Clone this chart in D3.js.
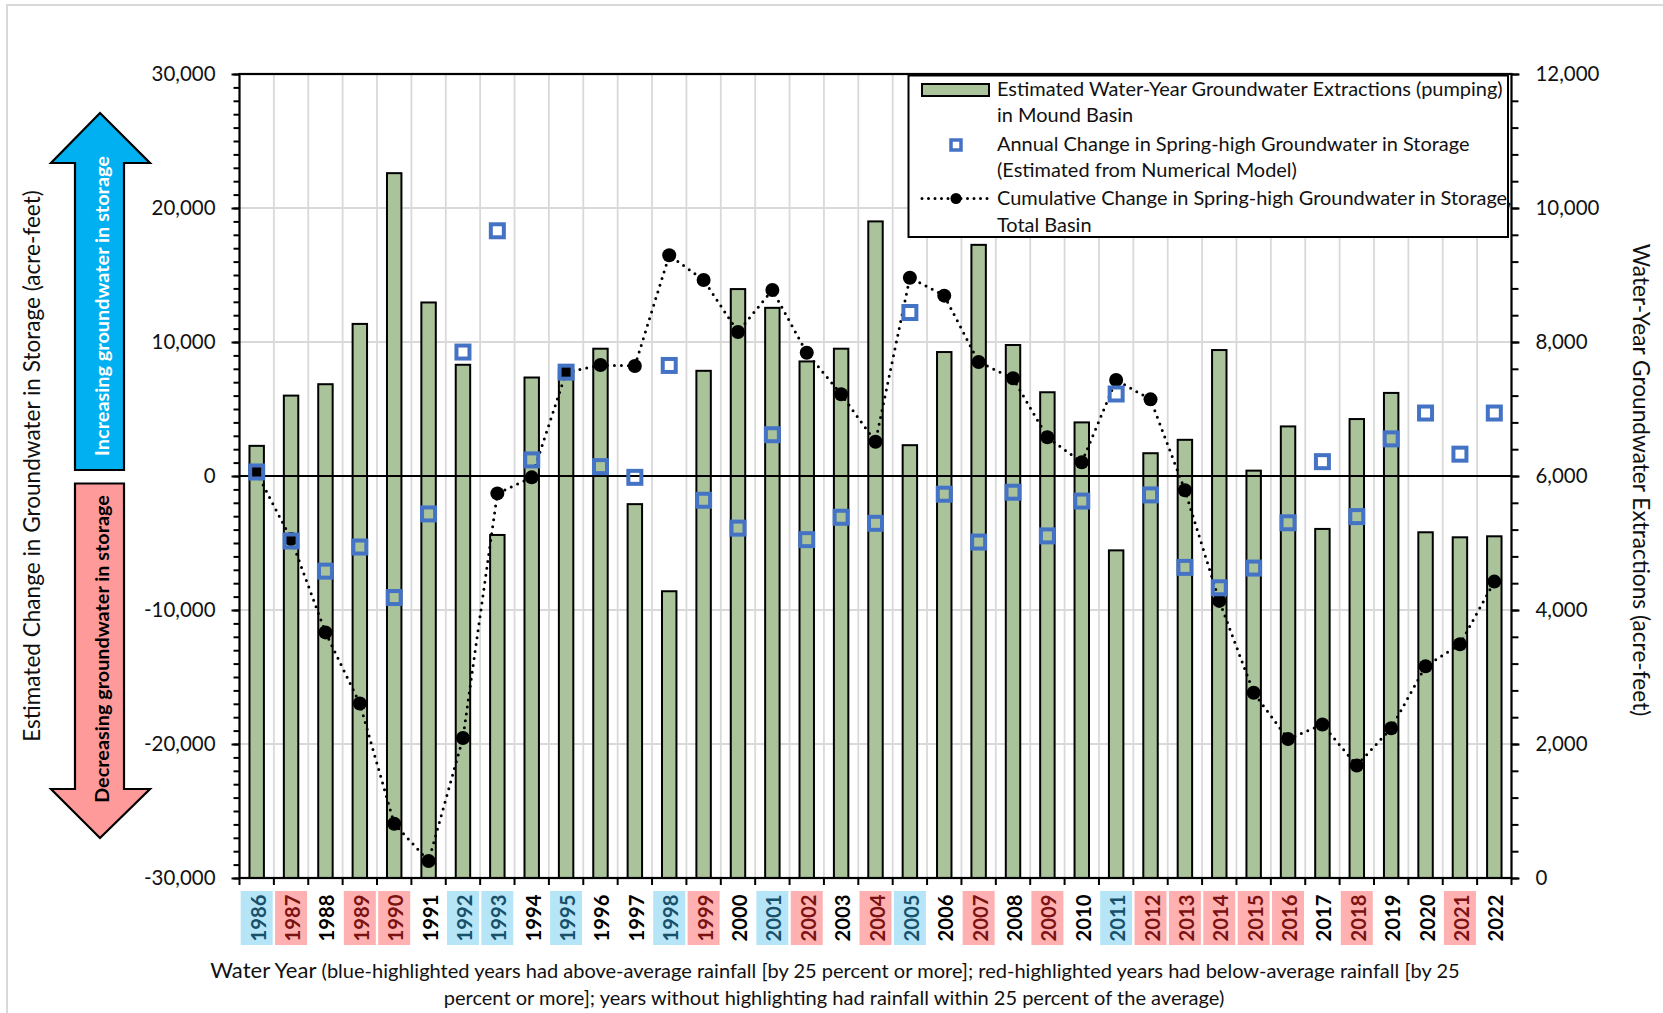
<!DOCTYPE html>
<html>
<head>
<meta charset="utf-8">
<script src="https://cdn.jsdelivr.net/npm/d3@7"></script>
<style>
  html, body { margin: 0; padding: 0; background: #fff; }
  svg { display: block; font-family: Lato, "Open Sans", sans-serif; }
</style>
</head>
<body>
<svg id="chart" width="1663" height="1013"></svg>
<script>
// Water years on the category axis
const years = [1986, 1987, 1988, 1989, 1990, 1991, 1992, 1993, 1994, 1995,
               1996, 1997, 1998, 1999, 2000, 2001, 2002, 2003, 2004, 2005,
               2006, 2007, 2008, 2009, 2010, 2011, 2012, 2013, 2014, 2015,
               2016, 2017, 2018, 2019, 2020, 2021, 2022];

// Estimated water-year groundwater extractions in Mound Basin (acre-feet, right axis)
const extractions = [6450, 7200, 7370, 8270, 10520, 8590, 7660, 5120, 7470, 7580,
                     7900, 5580, 4280, 7570, 8790, 8510, 7710, 7900, 9800, 6460,
                     7850, 9450, 7955, 7250, 6800, 4890, 6340, 6540, 7880, 6080,
                     6740, 5210, 6850, 7240, 5160, 5085, 5100];

// Annual change in spring-high groundwater in storage (acre-feet, left axis)
const annualChange = [300, -4850, -7100, -5300, -9070, -2830, 9250, 18300, 1200, 7750,
                      700, -100, 8250, -1810, -3890, 3080, -4750, -3080, -3530, 12200,
                      -1360, -4930, -1210, -4470, -1870, 6120, -1410, -6820, -8340, -6870,
                      -3490, 1070, -3030, 2770, 4700, 1630, 4700];

// Cumulative change in spring-high groundwater in storage, total basin (acre-feet, left axis)
const cumulativeChange = [250, -4700, -11670, -16980, -25950, -28730, -19550, -1300, -100, 7720,
                          8280, 8210, 16470, 14630, 10750, 13880, 9200, 6100, 2560, 14800,
                          13460, 8510, 7290, 2890, 1020, 7160, 5720, -1060, -9320, -16170,
                          -19630, -18540, -21600, -18820, -14200, -12560, -7880];

// Rainfall classification of each water year
const wetYears = [1986, 1992, 1993, 1995, 1998, 2001, 2005, 2011];
const dryYears = [1987, 1989, 1990, 1999, 2002, 2004, 2007, 2009, 2012, 2013,
                  2014, 2015, 2016, 2018, 2021];

// Axis ticks
const leftTicks = [-30000, -20000, -10000, 0, 10000, 20000, 30000];
const rightTicks = [0, 2000, 4000, 6000, 8000, 10000, 12000];

// Text
const leftTitle = "Estimated Change in Groundwater in Storage (acre-feet)";
const rightTitle = "Water-Year Groundwater Extractions (acre-feet)";
const xTitleLead = "Water Year";
const xTitleLine1 = " (blue-highlighted years had above-average rainfall [by 25 percent or more]; red-highlighted years had below-average rainfall [by 25";
const xTitleLine2 = "percent or more]; years without highlighting had rainfall within 25 percent of the average)";
const legendLines = [
  ["Estimated Water-Year Groundwater Extractions (pumping)", "in Mound Basin"],
  ["Annual Change in Spring-high Groundwater in Storage", "(Estimated from Numerical Model)"],
  ["Cumulative Change in Spring-high Groundwater in Storage,", "Total Basin"]
];
const upArrowText = "Increasing groundwater in storage";
const downArrowText = "Decreasing groundwater in storage";

// ---- layout & style ----
const plot = { left: 239.5, right: 1511.5, top: 74, bottom: 878 };
const C = {
  bar: "#AAC39B",
  square: "#4472C4",
  grid: "#D9D9D9",
  wetBg: "#B5E5F7",
  dryBg: "#FFB0B0",
  wetText: "#17506A",
  dryText: "#7A1212",
  upArrow: "#00B0F0",
  downArrow: "#FF9A9A",
  text: "#111"
};

const svg = d3.select("#chart");

// helper: scale a text element's font size so it spans a given width
function fitWidth(sel, width) {
  const base = parseFloat(sel.attr("font-size"));
  const w = sel.node().getComputedTextLength();
  const size = base * width / w;
  sel.attr("font-size", size);
  return size;
}

// outer frame
svg.append("path")
  .attr("d", "M7,1100 L7,5 L1700,5")
  .attr("fill", "none").attr("stroke", "#D9D9D9").attr("stroke-width", 2);

const x = d3.scaleBand().domain(years).range([plot.left, plot.right]).paddingInner(0).paddingOuter(0);
const yL = d3.scaleLinear().domain([-30000, 30000]).range([plot.bottom, plot.top]);
const yR = d3.scaleLinear().domain([0, 12000]).range([plot.bottom, plot.top]);
const bw = x.bandwidth();
const cx = d => x(d) + bw / 2;

// gridlines
const gGrid = svg.append("g");
gGrid.selectAll("line.h").data(leftTicks.filter(t => t !== 0 && Math.abs(t) !== 30000))
  .join("line")
  .attr("x1", plot.left).attr("x2", plot.right)
  .attr("y1", d => yL(d)).attr("y2", d => yL(d))
  .attr("stroke", C.grid).attr("stroke-width", 1.8);
gGrid.selectAll("line.v").data(years.slice(1))
  .join("line")
  .attr("x1", d => x(d)).attr("x2", d => x(d))
  .attr("y1", plot.top).attr("y2", plot.bottom)
  .attr("stroke", C.grid).attr("stroke-width", 1.8);

// extraction bars (right axis)
const barW = bw * 0.42;
svg.append("g").selectAll("rect").data(years)
  .join("rect")
  .attr("x", d => cx(d) - barW / 2)
  .attr("width", barW)
  .attr("y", (d, i) => yR(extractions[i]))
  .attr("height", (d, i) => yR(0) - yR(extractions[i]))
  .attr("fill", C.bar).attr("stroke", "#000").attr("stroke-width", 2);

// zero line
svg.append("line")
  .attr("x1", plot.left).attr("x2", plot.right)
  .attr("y1", yL(0)).attr("y2", yL(0))
  .attr("stroke", "#000").attr("stroke-width", 2);

// cumulative change: dotted line + dots
const line = d3.line().x((d, i) => cx(years[i])).y(d => yL(d));
svg.append("path").datum(cumulativeChange)
  .attr("d", line)
  .attr("fill", "none").attr("stroke", "#000").attr("stroke-width", 3)
  .attr("stroke-dasharray", "0 7").attr("stroke-linecap", "round");
svg.append("g").selectAll("circle").data(cumulativeChange)
  .join("circle")
  .attr("cx", (d, i) => cx(years[i])).attr("cy", d => yL(d)).attr("r", 7)
  .attr("fill", "#000");

// annual change: open squares
const sq = 13;
svg.append("g").selectAll("rect").data(annualChange)
  .join("rect")
  .attr("x", (d, i) => cx(years[i]) - sq / 2).attr("y", d => yL(d) - sq / 2)
  .attr("width", sq).attr("height", sq)
  .attr("fill", "none").attr("stroke", C.square).attr("stroke-width", 4);

// plot frame
svg.append("rect")
  .attr("x", plot.left).attr("y", plot.top)
  .attr("width", plot.right - plot.left).attr("height", plot.bottom - plot.top)
  .attr("fill", "none").attr("stroke", "#000").attr("stroke-width", 2.2);

// left axis
const fmt = d => d3.format(",")(d).replace("\u2212", "-");
const gL = svg.append("g").attr("transform", `translate(${plot.left},0)`);
gL.call(d3.axisLeft(yL).tickValues(d3.range(-30000, 30001, 1000)).tickSize(6).tickFormat(""));
gL.call(g => g.select(".domain").remove());
gL.selectAll("line").attr("stroke", "#000").attr("stroke-width", 2);
const gL2 = svg.append("g").attr("transform", `translate(${plot.left},0)`);
gL2.call(d3.axisLeft(yL).tickValues(leftTicks).tickSize(8).tickPadding(16).tickFormat(fmt));
gL2.select(".domain").remove();
gL2.selectAll("line").attr("stroke", "#000").attr("stroke-width", 2);
gL2.selectAll("text").attr("font-family", "Lato").attr("font-size", 21).attr("fill", C.text);

// right axis
const gR = svg.append("g").attr("transform", `translate(${plot.right},0)`);
gR.call(d3.axisRight(yR).tickValues(d3.range(0, 12001, 400)).tickSize(7).tickFormat(""));
gR.select(".domain").remove();
gR.selectAll("line").attr("stroke", "#000").attr("stroke-width", 2);
const gR2 = svg.append("g").attr("transform", `translate(${plot.right},0)`);
gR2.call(d3.axisRight(yR).tickValues(rightTicks).tickSize(8).tickPadding(16).tickFormat(fmt));
gR2.select(".domain").remove();
gR2.selectAll("line").attr("stroke", "#000").attr("stroke-width", 2);
gR2.selectAll("text").attr("font-family", "Lato").attr("font-size", 21).attr("fill", C.text);

// fit tick label size
{
  const t = gL2.selectAll("text").filter(d => d === 30000);
  const s = fitWidth(t, 64);
  gL2.selectAll("text").attr("font-size", s);
  gR2.selectAll("text").attr("font-size", s);
}

// bottom ticks at band boundaries
svg.append("g").selectAll("line").data(years.concat([null]))
  .join("line")
  .attr("x1", (d, i) => d === null ? plot.right : x(d))
  .attr("x2", (d, i) => d === null ? plot.right : x(d))
  .attr("y1", plot.bottom).attr("y2", plot.bottom + 7)
  .attr("stroke", "#000").attr("stroke-width", 2);

// year labels with rainfall highlighting
const klass = y => wetYears.includes(y) ? "wet" : (dryYears.includes(y) ? "dry" : "avg");
const gY = svg.append("g");
gY.selectAll("rect").data(years.filter(y => klass(y) !== "avg"))
  .join("rect")
  .attr("x", d => x(d) + 1.2).attr("width", bw - 2.4)
  .attr("y", 891).attr("height", 54)
  .attr("fill", d => klass(d) === "wet" ? C.wetBg : C.dryBg);
const yearText = gY.selectAll("text").data(years)
  .join("text")
  .attr("transform", d => `translate(${cx(d) + 1},918) rotate(-90)`)
  .attr("text-anchor", "middle").attr("dominant-baseline", "central")
  .attr("font-family", "Lato").attr("font-weight", 700).attr("font-size", 21)
  .attr("fill", d => klass(d) === "wet" ? C.wetText : (klass(d) === "dry" ? C.dryText : "#000"))
  .text(d => d);
{
  const s = fitWidth(yearText.filter(d => d === 1986), 47);
  yearText.attr("font-size", s);
}

// x-axis title (two lines)
const xt1 = svg.append("text").attr("x", 835).attr("y", 978)
  .attr("text-anchor", "middle").attr("font-family", "Lato").attr("font-size", 18).attr("fill", C.text);
xt1.append("tspan").attr("font-size", "1.1em").text(xTitleLead);
xt1.append("tspan").text(xTitleLine1);
const xs = fitWidth(xt1, 1250);
svg.append("text").attr("x", 834).attr("y", 1005)
  .attr("text-anchor", "middle").attr("font-family", "Lato").attr("font-size", xs).attr("fill", C.text)
  .text(xTitleLine2);

// axis titles
const lt = svg.append("text")
  .attr("transform", "translate(31,466) rotate(-90)")
  .attr("text-anchor", "middle").attr("dominant-baseline", "central")
  .attr("font-family", "Lato").attr("font-size", 20).attr("fill", C.text)
  .text(leftTitle);
fitWidth(lt, 552);
const rt = svg.append("text")
  .attr("transform", "translate(1641,480) rotate(90)")
  .attr("text-anchor", "middle").attr("dominant-baseline", "central")
  .attr("font-family", "Lato").attr("font-size", 20).attr("fill", C.text)
  .text(rightTitle);
fitWidth(rt, 473);

// direction arrows
const up = [[100, 113], [150, 163], [124, 163], [124, 470], [75, 470], [75, 163], [51, 163]];
const down = [[75, 483.5], [124, 483.5], [124, 789], [150, 789], [100, 838], [51, 789], [75, 789]];
const poly = d3.line();
svg.append("path").attr("d", poly(up) + "Z")
  .attr("fill", C.upArrow).attr("stroke", "#000").attr("stroke-width", 2.2).attr("stroke-linejoin", "miter");
svg.append("path").attr("d", poly(down) + "Z")
  .attr("fill", C.downArrow).attr("stroke", "#000").attr("stroke-width", 2.2).attr("stroke-linejoin", "miter");
const ut = svg.append("text")
  .attr("transform", "translate(101,306) rotate(-90)")
  .attr("text-anchor", "middle").attr("dominant-baseline", "central")
  .attr("font-family", "Lato").attr("font-weight", 700).attr("font-size", 18).attr("fill", "#fff")
  .text(upArrowText);
fitWidth(ut, 300);
const dt = svg.append("text")
  .attr("transform", "translate(101,649) rotate(-90)")
  .attr("text-anchor", "middle").attr("dominant-baseline", "central")
  .attr("font-family", "Lato").attr("font-weight", 700).attr("font-size", 18).attr("fill", "#000")
  .text(downArrowText);
fitWidth(dt, 308);

// legend
const lg = svg.append("g");
lg.append("rect").attr("x", 908.5).attr("y", 75.5).attr("width", 599.5).attr("height", 161.5)
  .attr("fill", "#fff").attr("stroke", "#000").attr("stroke-width", 2);
lg.append("rect").attr("x", 922).attr("y", 84).attr("width", 67).attr("height", 12)
  .attr("fill", C.bar).attr("stroke", "#000").attr("stroke-width", 2);
lg.append("rect").attr("x", 956 - 5).attr("y", 145 - 5).attr("width", 10).attr("height", 10)
  .attr("fill", "#fff").attr("stroke", C.square).attr("stroke-width", 3.5);
lg.append("path").attr("d", "M922,198.5 L990,198.5")
  .attr("stroke", "#000").attr("stroke-width", 3).attr("stroke-dasharray", "0 6.5").attr("stroke-linecap", "round");
lg.append("circle").attr("cx", 956).attr("cy", 198.5).attr("r", 5.5).attr("fill", "#000");
const baselines = [96, 122, 151, 177, 205, 232];
const legTexts = lg.selectAll("text").data(legendLines.flat())
  .join("text")
  .attr("x", 997).attr("y", (d, i) => baselines[i])
  .attr("font-family", "Lato").attr("font-size", 18).attr("fill", C.text)
  .text(d => d);
{
  const s = fitWidth(legTexts.filter((d, i) => i === 0), 506);
  legTexts.attr("font-size", s);
}
</script>
</body>
</html>
